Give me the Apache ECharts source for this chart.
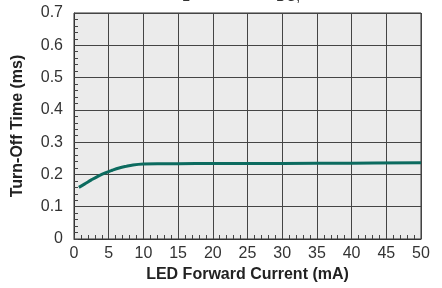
<!DOCTYPE html>
<html><head><meta charset="utf-8">
<script src="https://cdn.jsdelivr.net/npm/echarts@6/dist/echarts.min.js"></script>
<style>html,body{margin:0;padding:0;background:#fff}#c{width:442px;height:288px}</style>
</head><body><div id="c"></div>
<script>
const currentMA = [0.7, 1.5, 2.5, 3.5, 4.5, 5.5, 6.5, 7.5, 8.5, 10, 12, 15, 20, 30, 40, 50];
const turnOffMs = [0.160, 0.170, 0.183, 0.195, 0.205, 0.213, 0.220, 0.225, 0.229, 0.232, 0.233, 0.233, 0.234, 0.234, 0.235, 0.236];
const xTitle = 'LED Forward Current (mA)';
const yTitle = 'Turn-Off Time (ms)';

const chart = echarts.init(document.getElementById('c'), null, {renderer: 'canvas'});
const lab = {color: '#333', fontSize: 16, fontFamily: 'Liberation Sans, Arial, sans-serif'};
chart.setOption({
  animation: false,
  backgroundColor: '#fff',
  grid: {left: 74, top: 13, width: 347, height: 230, show: true, backgroundColor: '#ebebeb', borderColor: '#333', borderWidth: 1},
  graphic: [
    {type: 'text', left: 182, top: -10, style: {text: 'L', fontSize: 14, fill: '#333', fontFamily: 'Liberation Sans, Arial'}},
    {type: 'text', left: 276, top: -10, style: {text: 'DC,', fontSize: 14, fill: '#333', fontFamily: 'Liberation Sans, Arial'}}
  ],
  xAxis: {
    type: 'value', min: 0, max: 50, interval: 5,
    name: xTitle, nameLocation: 'middle', nameGap: 28,
    nameTextStyle: {fontSize: 16, fontWeight: 'bold', color: '#222', fontFamily: 'Liberation Sans, Arial'},
    axisLine: {show: true, lineStyle: {color: '#333'}},
    axisTick: {show: true, inside: true, length: 4, lineStyle: {color: '#444'}},
    minorTick: {show: true, splitNumber: 5, length: 4, lineStyle: {color: '#444'}},
    axisLabel: Object.assign({margin: 7}, lab),
    splitLine: {show: true, lineStyle: {color: '#444', width: 1}}
  },
  yAxis: {
    type: 'value', min: 0, max: 0.7, interval: 0.1,
    name: yTitle, nameLocation: 'middle', nameGap: 48,
    nameTextStyle: {fontSize: 16, fontWeight: 'bold', color: '#222', fontFamily: 'Liberation Sans, Arial'},
    axisLine: {show: true, lineStyle: {color: '#333'}},
    axisTick: {show: true, inside: true, length: 4, lineStyle: {color: '#444'}},
    minorTick: {show: true, splitNumber: 5, length: 4, lineStyle: {color: '#444'}},
    axisLabel: Object.assign({margin: 11, formatter: v => v === 0 ? '0' : v.toFixed(1)}, lab),
    splitLine: {show: true, lineStyle: {color: '#444', width: 1}}
  },
  series: [{
    type: 'line', smooth: 0.4, symbol: 'none',
    data: currentMA.map((x, i) => [x, turnOffMs[i]]),
    lineStyle: {color: '#0c6b5f', width: 3}
  }]
});
</script></body></html>
